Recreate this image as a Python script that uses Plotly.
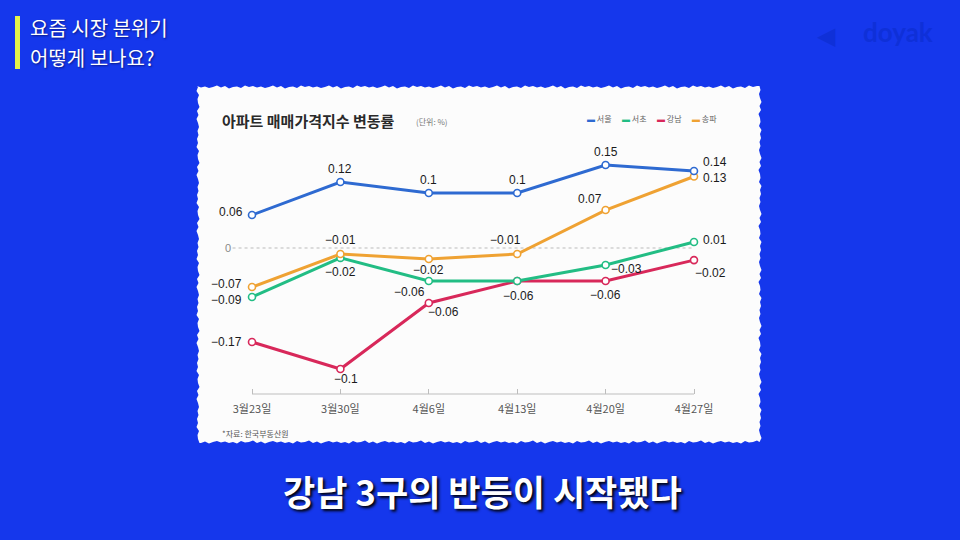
import plotly.graph_objects as go

# ---------------- data ----------------
dates = ["3월23일", "3월30일", "4월6일", "4월13일", "4월20일", "4월27일"]
series_names = ["서울", "서초", "강남", "송파"]

# plotted positions
seoul = [0.06, 0.12, 0.10, 0.10, 0.151, 0.14]
seocho = [-0.089, -0.018, -0.06, -0.06, -0.031, 0.011]
gangnam = [-0.171, -0.22, -0.10, -0.06, -0.06, -0.022]
songpa = [-0.071, -0.011, -0.02, -0.011, 0.069, 0.13]

# data labels as printed on the chart
seoul_lbl = ["0.06", "0.12", "0.1", "0.1", "0.15", "0.14"]
seocho_lbl = ["-0.09", "-0.02", "-0.06", "", "-0.03", "0.01"]
gangnam_lbl = ["-0.17", "-0.1", "-0.06", "-0.06", "-0.06", "-0.02"]
songpa_lbl = ["-0.07", "-0.01", "-0.02", "-0.01", "0.07", "0.13"]

title_text = "아파트 매매가격지수 변동률"
unit_text = "(단위: %)"
source_text = "*자료: 한국부동산원"
header_lines = ["요즘 시장 분위기", "어떻게 보나요?"]
caption_text = "강남 3구의 반등이 시작됐다"
logo_text = "doyak"

# ---------------- styles ----------------
BG = "#1537EC"
colors = {"서울": "#2E6AD1", "서초": "#22BD84", "강남": "#D8285A", "송파": "#EFA233"}
# label placement: (xanchor, dx px, dy px down) relative to the point
lbl_pos = {
    "서울": [("right", -7, -3), ("center", 0, -13), ("center", 0, -13), ("center", 0, -13),
             ("center", 0, -13), ("left", 7, -9)],
    "송파": [("right", -8, -3), ("center", 0, -14), ("center", 0, 11), ("center", -12, -14),
             ("center", -16, -11), ("left", 7, 1)],
    "서초": [("right", -8, 3), ("center", 0, 14), ("center", -19, 11), ("center", 0, 0),
             ("center", 21, 4), ("left", 7, -2)],
    "강남": [("right", -8, 0), ("center", 6, 10), ("center", 15, 9), ("center", 1, 15),
             ("center", 0, 14), ("center", 16, 13)],
}
values = {"서울": seoul, "서초": seocho, "강남": gangnam, "송파": songpa}
labels = {"서울": seoul_lbl, "서초": seocho_lbl, "강남": gangnam_lbl, "송파": songpa_lbl}

W, H = 960, 540
xs = list(range(len(dates)))

fig = go.Figure()
annotations = []
for name in ["강남", "서초", "송파", "서울"]:
    fig.add_trace(go.Scatter(
        x=xs, y=values[name], mode="lines+markers", name=name,
        line=dict(color=colors[name], width=3),
        marker=dict(size=7, color="white", line=dict(color=colors[name], width=1.6)),
        cliponaxis=False, showlegend=False,
    ))
    for xi, yv, lab, (anc, dx, dy) in zip(xs, values[name], labels[name], lbl_pos[name]):
        if not lab:
            continue
        annotations.append(dict(
            text=lab.replace("-", "−"), x=xi, y=yv, xref="x", yref="y", showarrow=False,
            xanchor=anc, yanchor="middle", xshift=dx, yshift=-dy,
            font=dict(family="Liberation Sans, Arial", size=12, color="#1a1a1a")))

# soft, ragged white card
def card_path(x0, y0, x1, y1, step=4):
    jit = [0, 1.5, 0.5, 2, 1, -0.5, 1.5, 0, 2.5, 1, 0.5, 2, -0.5, 1]
    pts = []
    k = 0
    x = x0
    while x < x1:
        pts.append((x, y0 + jit[k % len(jit)])); x += step; k += 1
    y = y0
    while y < y1:
        pts.append((x1 - jit[k % len(jit)], y)); y += step; k += 1
    x = x1
    while x > x0:
        pts.append((x, y1 - jit[k % len(jit)])); x -= step; k += 1
    y = y1
    while y > y0:
        pts.append((x0 + jit[k % len(jit)], y)); y -= step; k += 1
    d = "M " + " L ".join(f"{px / W:.5f},{1 - py / H:.5f}" for px, py in pts) + " Z"
    return d

shapes = [
    dict(type="path", xref="paper", yref="paper", path=card_path(197, 86, 761, 443),
         fillcolor="#FCFCFC", line=dict(width=0), layer="below"),
    # header yellow bar
    dict(type="rect", xref="paper", yref="paper", x0=15 / W, x1=20 / W, y0=1 - 69 / H, y1=1 - 16 / H,
         fillcolor="#E4F24A", line=dict(width=0)),
    # zero dotted line
    dict(type="line", xref="x", yref="y", x0=-0.22, x1=5, y0=0, y1=0,
         line=dict(color="#BBBBBB", width=1, dash="dot"), layer="below"),
    # x-axis base line
    dict(type="line", xref="x", yref="y domain", x0=0, x1=5, y0=0, y1=0,
         line=dict(color="#BDBDBD", width=1.2)),
]

annotations += [
    dict(text=f"<b>{title_text}</b>", x=220 / W, y=1 - 120 / H, xref="paper", yref="paper",
         xanchor="left", yanchor="middle", showarrow=False,
         font=dict(family="Noto Sans CJK KR", size=15, color="#2a2a2a")),
    dict(text=unit_text, x=414 / W, y=1 - 121 / H, xref="paper", yref="paper",
         xanchor="left", yanchor="middle", showarrow=False,
         font=dict(family="Noto Sans CJK KR", size=8, color="#777777")),
    dict(text=source_text, x=220 / W, y=1 - 433 / H, xref="paper", yref="paper",
         xanchor="left", yanchor="middle", showarrow=False,
         font=dict(family="Noto Sans CJK KR", size=8, color="#555555")),
    dict(text="0", x=-0.22, y=0, xref="x", yref="y", xanchor="right", yanchor="middle",
         showarrow=False, font=dict(family="Liberation Sans", size=11, color="#888888")),
    dict(text=header_lines[0], x=28 / W, y=1 - 28 / H, xref="paper", yref="paper",
         xanchor="left", yanchor="middle", align="left", showarrow=False,
         font=dict(family="Noto Sans CJK KR", size=20, color="white", shadow="1px 1px 2px #0a1a80")),
    dict(text=header_lines[1], x=28 / W, y=1 - 58 / H, xref="paper", yref="paper",
         xanchor="left", yanchor="middle", align="left", showarrow=False,
         font=dict(family="Noto Sans CJK KR", size=20, color="white", shadow="1px 1px 2px #0a1a80")),
    dict(text=f"<b>{logo_text}</b>", x=935 / W, y=1 - 32 / H, xref="paper", yref="paper",
         xanchor="right", yanchor="middle", showarrow=False,
         font=dict(family="Lato", size=26, color="#0F30D8")),
    dict(text="◀", x=826 / W, y=1 - 34 / H, xref="paper", yref="paper",
         xanchor="center", yanchor="middle", showarrow=False,
         font=dict(size=24, color="#0F30D8")),
    dict(text=f"<b>{caption_text}</b>", x=482 / W, y=1 - 490 / H, xref="paper", yref="paper",
         xanchor="center", yanchor="middle", showarrow=False,
         font=dict(family="Noto Sans CJK KR", size=35, color="white",
                   shadow="2px 2px 3px #000000")),
]

# legend built from names / colors
lx = 585
for name in series_names:
    annotations.append(dict(
        text=f"<span style='color:{colors[name]}'>▬</span> {name}", x=lx / W, y=1 - 118 / H,
        xref="paper", yref="paper", xanchor="left", yanchor="middle", showarrow=False,
        font=dict(family="Noto Sans CJK KR", size=8, color="#666666")))
    lx += 35

px_per_idx = (694 - 252) / 5
x_lo = -(252 - 230) / px_per_idx
x_hi = 5 + (716 - 694) / px_per_idx
scale = 550.0
y_top_px, y_bot_px, zero_px = 150, 394, 248

fig.update_layout(
    width=W, height=H, margin=dict(l=0, r=0, t=0, b=0),
    paper_bgcolor=BG, plot_bgcolor="rgba(0,0,0,0)",
    shapes=shapes, annotations=annotations,
    xaxis=dict(domain=[230 / W, 716 / W], range=[x_lo, x_hi], tickvals=xs, ticktext=dates,
               showgrid=False, zeroline=False, showline=False, ticks="inside", ticklen=5,
               tickcolor="#BDBDBD", tickfont=dict(family="Noto Sans CJK KR", size=11, color="#555555"),
               ticklabelstandoff=7, fixedrange=True),
    yaxis=dict(domain=[1 - y_bot_px / H, 1 - y_top_px / H],
               range=[-(y_bot_px - zero_px) / scale, (zero_px - y_top_px) / scale],
               visible=False, fixedrange=True),
    showlegend=False,
)

fig.write_html("out.html")
